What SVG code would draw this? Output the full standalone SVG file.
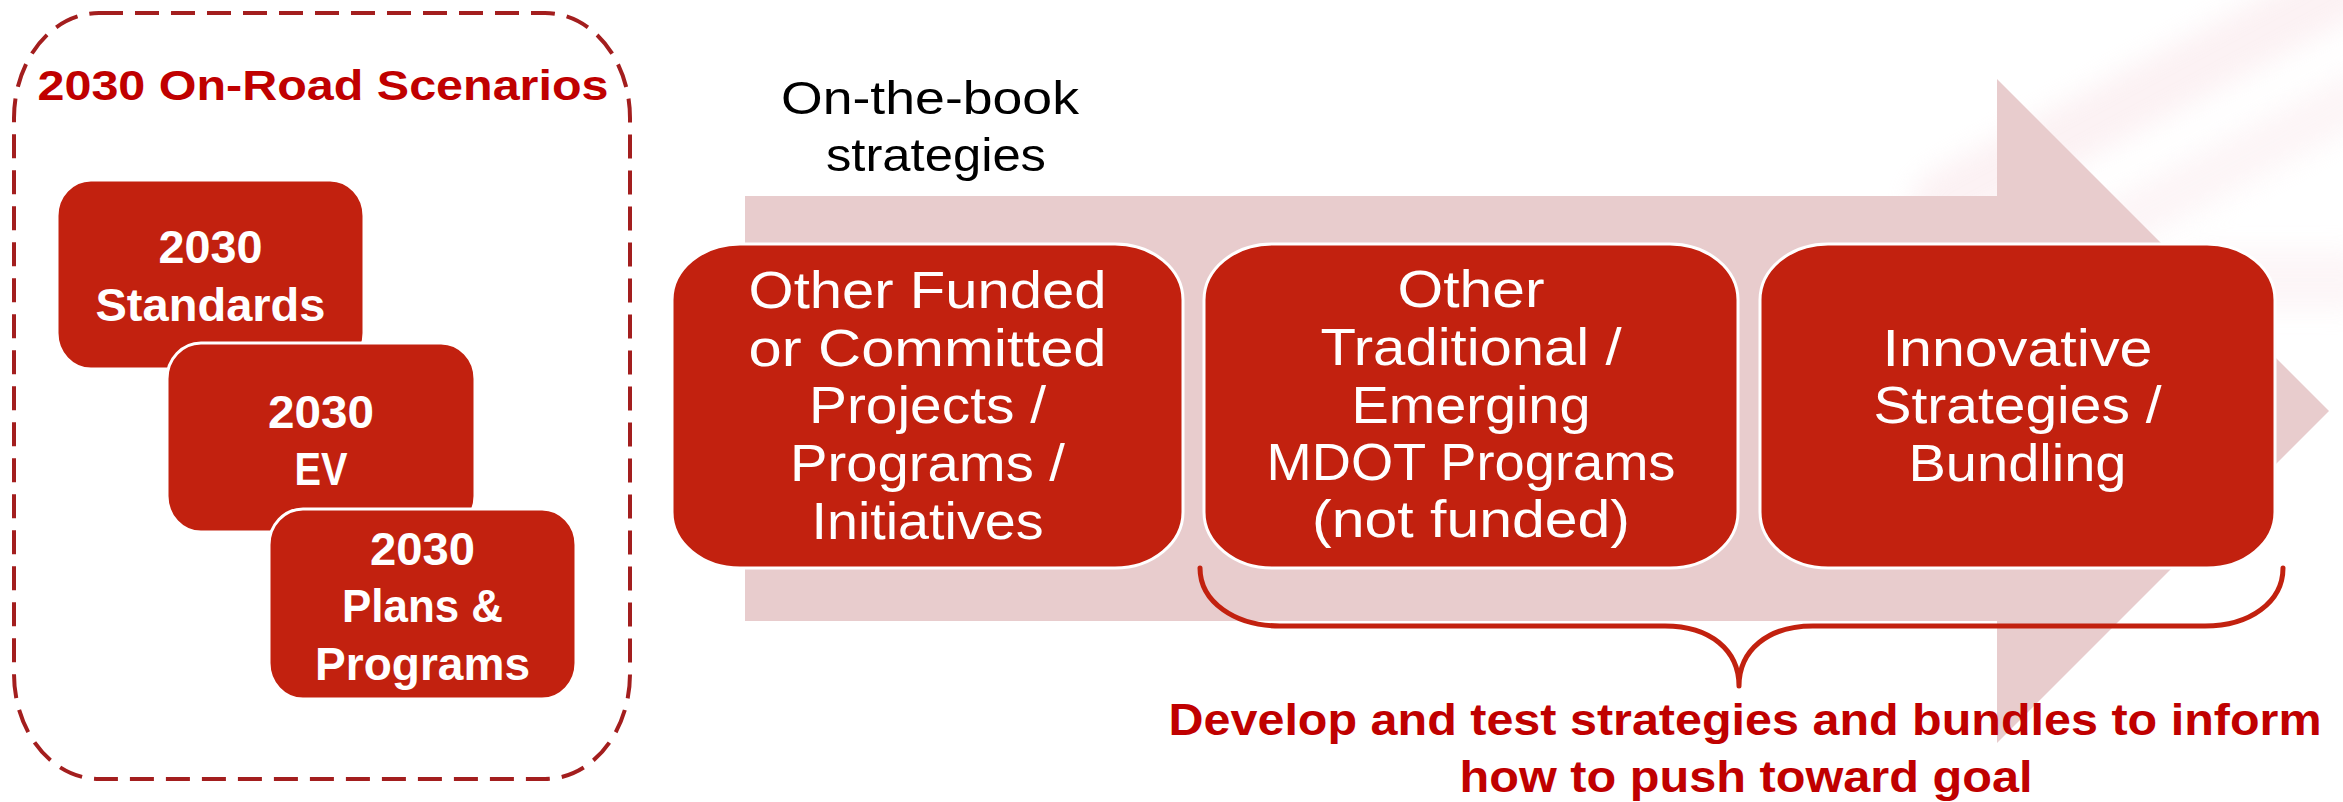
<svg xmlns="http://www.w3.org/2000/svg" width="2343" height="802" viewBox="0 0 2343 802">
  <defs>
    <style>
      .bg { fill: #ffffff; }
      .arrow { fill: #E8CCCD; }
      .sbox { fill: #C2210F; stroke: #ffffff; stroke-width: 3; }
      .mbox { fill: #C2210F; stroke: #ffffff; stroke-width: 3; }
      .stxt { font-family: "Liberation Sans", Arial, sans-serif; font-weight: bold; font-size: 46px; fill: #ffffff; text-anchor: middle; }
      .mtxt { font-family: "Liberation Sans", Arial, sans-serif; font-size: 52px; fill: #ffffff; text-anchor: middle; }
      .title { font-family: "Liberation Sans", Arial, sans-serif; font-weight: bold; font-size: 43px; fill: #C00000; text-anchor: middle; }
      .label { font-family: "Liberation Sans", Arial, sans-serif; font-size: 46px; fill: #000000; text-anchor: middle; }
      .note { font-family: "Liberation Sans", Arial, sans-serif; font-weight: bold; font-size: 44px; fill: #C00000; text-anchor: middle; }
      .dash { fill: none; stroke: #A31E1E; stroke-width: 4; stroke-dasharray: 24 12; }
      .brace { fill: none; stroke: #C2210F; stroke-width: 5; stroke-linecap: round; stroke-linejoin: round; }
    </style>
    <filter id="blur" x="-20%" y="-50%" width="140%" height="200%">
      <feGaussianBlur stdDeviation="14"/>
    </filter>
  </defs>

  <rect class="bg" x="0" y="0" width="2343" height="802"/>

  <!-- faint background watermark -->
  <g id="watermark" filter="url(#blur)" opacity="0.4">
    <rect x="1880" y="40" width="620" height="60" rx="30" fill="#F7DDE2" transform="rotate(-28 2190 70)"/>
    <rect x="1950" y="150" width="520" height="50" rx="25" fill="#F9E6EA" transform="rotate(-28 2210 175)"/>
    <rect x="2180" y="250" width="200" height="60" rx="30" fill="#F9E8EC"/>
  </g>

  <!-- left scenarios container -->
  <g id="scenarios">
    <rect class="dash" x="14" y="13" width="616" height="766" rx="85" ry="105"/>
    <text class="title" x="323" y="100" textLength="571" lengthAdjust="spacingAndGlyphs">2030 On-Road Scenarios</text>
  </g>

  <g id="box-standards">
    <rect class="sbox" x="57" y="180" width="307" height="189" rx="34" ry="36"/>
    <text class="stxt" x="210.5" y="263" textLength="104" lengthAdjust="spacingAndGlyphs">2030</text>
    <text class="stxt" x="210.5" y="321" textLength="230" lengthAdjust="spacingAndGlyphs">Standards</text>
  </g>

  <g id="box-ev">
    <rect class="sbox" x="167" y="343" width="308" height="189" rx="34" ry="36"/>
    <text class="stxt" x="321" y="428" textLength="106" lengthAdjust="spacingAndGlyphs">2030</text>
    <text class="stxt" x="321" y="485" textLength="53" lengthAdjust="spacingAndGlyphs">EV</text>
  </g>

  <g id="box-plans">
    <rect class="sbox" x="269" y="509" width="307" height="190" rx="34" ry="36"/>
    <text class="stxt" x="422.5" y="565" textLength="105" lengthAdjust="spacingAndGlyphs">2030</text>
    <text class="stxt" x="422.5" y="622" textLength="161" lengthAdjust="spacingAndGlyphs">Plans &amp;</text>
    <text class="stxt" x="422.5" y="680" textLength="215" lengthAdjust="spacingAndGlyphs">Programs</text>
  </g>

  <!-- big background arrow -->
  <g id="big-arrow">
    <polygon class="arrow" points="745,196 1997,196 1997,79 2329,411 1997,743 1997,621 745,621"/>
  </g>

  <g id="label-onthebook">
    <text class="label" x="930" y="114" textLength="298" lengthAdjust="spacingAndGlyphs">On-the-book</text>
    <text class="label" x="936" y="171" textLength="220" lengthAdjust="spacingAndGlyphs">strategies</text>
  </g>

  <g id="box-funded">
    <rect class="mbox" x="672" y="244" width="511" height="324" rx="68" ry="56"/>
    <text class="mtxt" x="927.5" y="308" textLength="358" lengthAdjust="spacingAndGlyphs">Other Funded</text>
    <text class="mtxt" x="927.5" y="366" textLength="358" lengthAdjust="spacingAndGlyphs">or Committed</text>
    <text class="mtxt" x="927.5" y="423" textLength="237" lengthAdjust="spacingAndGlyphs">Projects /</text>
    <text class="mtxt" x="927.5" y="481" textLength="275" lengthAdjust="spacingAndGlyphs">Programs /</text>
    <text class="mtxt" x="927.5" y="539" textLength="232" lengthAdjust="spacingAndGlyphs">Initiatives</text>
  </g>

  <g id="box-traditional">
    <rect class="mbox" x="1204" y="244" width="534" height="324" rx="68" ry="56"/>
    <text class="mtxt" x="1471" y="307" textLength="147" lengthAdjust="spacingAndGlyphs">Other</text>
    <text class="mtxt" x="1471" y="365" textLength="301" lengthAdjust="spacingAndGlyphs">Traditional /</text>
    <text class="mtxt" x="1471" y="423" textLength="239" lengthAdjust="spacingAndGlyphs">Emerging</text>
    <text class="mtxt" x="1471" y="480" textLength="409" lengthAdjust="spacingAndGlyphs">MDOT Programs</text>
    <text class="mtxt" x="1471" y="537" textLength="318" lengthAdjust="spacingAndGlyphs">(not funded)</text>
  </g>

  <g id="box-innovative">
    <rect class="mbox" x="1760" y="244" width="515" height="324" rx="68" ry="56"/>
    <text class="mtxt" x="2017.5" y="366" textLength="270" lengthAdjust="spacingAndGlyphs">Innovative</text>
    <text class="mtxt" x="2017.5" y="423" textLength="288" lengthAdjust="spacingAndGlyphs">Strategies /</text>
    <text class="mtxt" x="2017.5" y="481" textLength="218" lengthAdjust="spacingAndGlyphs">Bundling</text>
  </g>

  <!-- connectors: brace -->
  <g id="connectors">
    <path class="brace" d="M1200,568 C1200,602 1235,626 1280,626 L1665,626 C1710,626 1739,650 1739,686 C1739,650 1768,626 1813,626 L2205,626 C2250,626 2283,602 2283,568"/>
  </g>

  <g id="note">
    <text class="note" x="1745" y="735" textLength="1153" lengthAdjust="spacingAndGlyphs">Develop and test strategies and bundles to inform</text>
    <text class="note" x="1746" y="792" textLength="573" lengthAdjust="spacingAndGlyphs">how to push toward goal</text>
  </g>
</svg>
